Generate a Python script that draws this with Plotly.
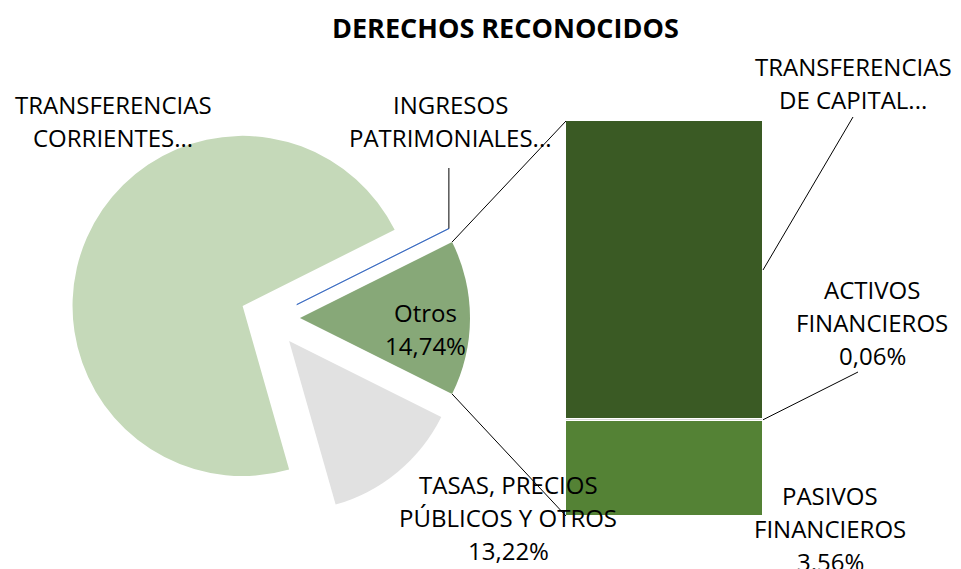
import math
import plotly.graph_objects as go

W, H = 961, 569
OFF = 8                      # default page body margin
FW, FH = W - OFF, H - OFF    # figure size

# ---- data ----
pie_labels = ["Otros", "TASAS, PRECIOS PÚBLICOS Y OTROS", "TRANSFERENCIAS CORRIENTES", "INGRESOS PATRIMONIALES"]
pie_values = [14.74, 13.22, 72.02, 0.02]
pie_colors = ["#87A878", "#E1E1E1", "#C5D9B9", "#4472C4"]

bar_labels = ["PASIVOS FINANCIEROS", "ACTIVOS FINANCIEROS", "TRANSFERENCIAS DE CAPITAL"]
bar_values = [3.56, 0.06, 11.12]
bar_colors = ["#548235", "#D9D9D9", "#3A5A24"]

FONT = "Open Sans"
fs = 24

def fmt(v):
    return f"{v:.2f}".replace(".", ",") + "%"

# ---- layout constants (page pixels) ----
pull = 0.176
pie_cx, pie_cy, pie_box = 270, 318, 400
bar_x0, bar_x1, bar_top, bar_bot = 566, 763, 121, 516

def px(x):
    return (x - OFF) / FW

def py(y):
    return 1 - (y - OFF) / FH

dom_x = [px(pie_cx - pie_box / 2), px(pie_cx + pie_box / 2)]
dom_y = [py(pie_cy + pie_box / 2), py(pie_cy - pie_box / 2)]

total = sum(pie_values)
frac_o = pie_values[0] / total
rotation = 90 - 360 * frac_o / 2

fig = go.Figure()
fig.add_trace(go.Pie(
    labels=pie_labels, values=pie_values, sort=False, direction="clockwise",
    rotation=rotation, pull=[pull] * len(pie_values),
    marker=dict(colors=pie_colors, line=dict(color=["rgba(0,0,0,0)"] * 3 + ["#4472C4"], width=[0, 0, 0, 1])),
    textinfo="none", hoverinfo="label+percent", domain=dict(x=dom_x, y=dom_y), showlegend=False,
))

for lab, val, col in zip(bar_labels, bar_values, bar_colors):
    fig.add_trace(go.Bar(x=[0], y=[val], name=lab, marker=dict(color=col, line=dict(color="white", width=1.5)),
                         width=1, showlegend=False, xaxis="x", yaxis="y"))

# ---- geometry from plotly pie formula ----
r = pie_box / (2 + 2 * pull)
def clock_to_math(a):
    return math.radians(90 - a)

def slice_point(idx, clock_angle, rad):
    start = rotation + 360 * sum(pie_values[:idx]) / total
    mid = start + 180 * pie_values[idx] / total
    m = clock_to_math(mid)
    a = clock_to_math(clock_angle)
    x = pie_cx + pull * r * math.cos(m) + rad * math.cos(a)
    y = pie_cy - pull * r * math.sin(m) - rad * math.sin(a)
    return x, y

o_top = slice_point(0, rotation, r)
o_bot = slice_point(0, rotation + 360 * frac_o, r)
ip_start = rotation + 360 * sum(pie_values[:3]) / total
ip_mid_angle = (ip_start + 360 + rotation) / 2
ip_pt = slice_point(3, ip_mid_angle, r)

bar_total = sum(bar_values)
def bar_y(v):
    return bar_bot - (bar_bot - bar_top) * v / bar_total

shapes = []
def line(p0, p1):
    shapes.append(dict(type="line", xref="paper", yref="paper", x0=px(p0[0]), y0=py(p0[1]),
                       x1=px(p1[0]), y1=py(p1[1]), line=dict(color="black", width=1)))

line(o_top, (bar_x0, bar_top))
line(o_bot, (bar_x0, bar_bot))
# leader lines
tc_mid = bar_y(bar_values[0] + bar_values[1] + bar_values[2] / 2)
line((853, 117), (bar_x1, tc_mid))
af_mid = bar_y(bar_values[0] + bar_values[1] / 2)
line((858, 372), (bar_x1, af_mid))
line((ip_pt[0], 168), ip_pt)

annotations = []
def label(lines, cx, y0, dy=33, size=fs, bold=False):
    for i, t in enumerate(lines):
        annotations.append(dict(text=f"<b>{t}</b>" if bold else t, x=px(cx), y=py(y0 + i * dy), xref="paper", yref="paper",
                                showarrow=False, xanchor="center", yanchor="middle",
                                font=dict(family=FONT, size=size, color="black")))

label(["DERECHOS RECONOCIDOS"], 505, 28, size=27, bold=True)
label(["TRANSFERENCIAS", "CORRIENTES..."], 113, 105)
label(["INGRESOS", "PATRIMONIALES..."], 450, 105)
label(["TRANSFERENCIAS", "DE CAPITAL..."], 853, 66)
label(["ACTIVOS", "FINANCIEROS", fmt(bar_values[1])], 872, 289)
label(["PASIVOS", "FINANCIEROS", fmt(bar_values[0])], 830, 495)
label(["TASAS, PRECIOS", "PÚBLICOS Y OTROS", fmt(pie_values[1])], 508, 484)
label(["Otros", fmt(pie_values[0])], 425, 312)

fig.update_layout(
    width=FW, height=FH, margin=dict(l=0, r=0, t=0, b=0),
    paper_bgcolor="white", plot_bgcolor="white", barmode="stack", bargap=0,
    xaxis=dict(domain=[px(bar_x0), px(bar_x1)], range=[-0.5, 0.5], visible=False, fixedrange=True),
    yaxis=dict(domain=[py(bar_bot), py(bar_top)], range=[0, bar_total], visible=False, fixedrange=True),
    shapes=shapes, annotations=annotations, font=dict(family=FONT),
)

fig.write_html("out.html")
